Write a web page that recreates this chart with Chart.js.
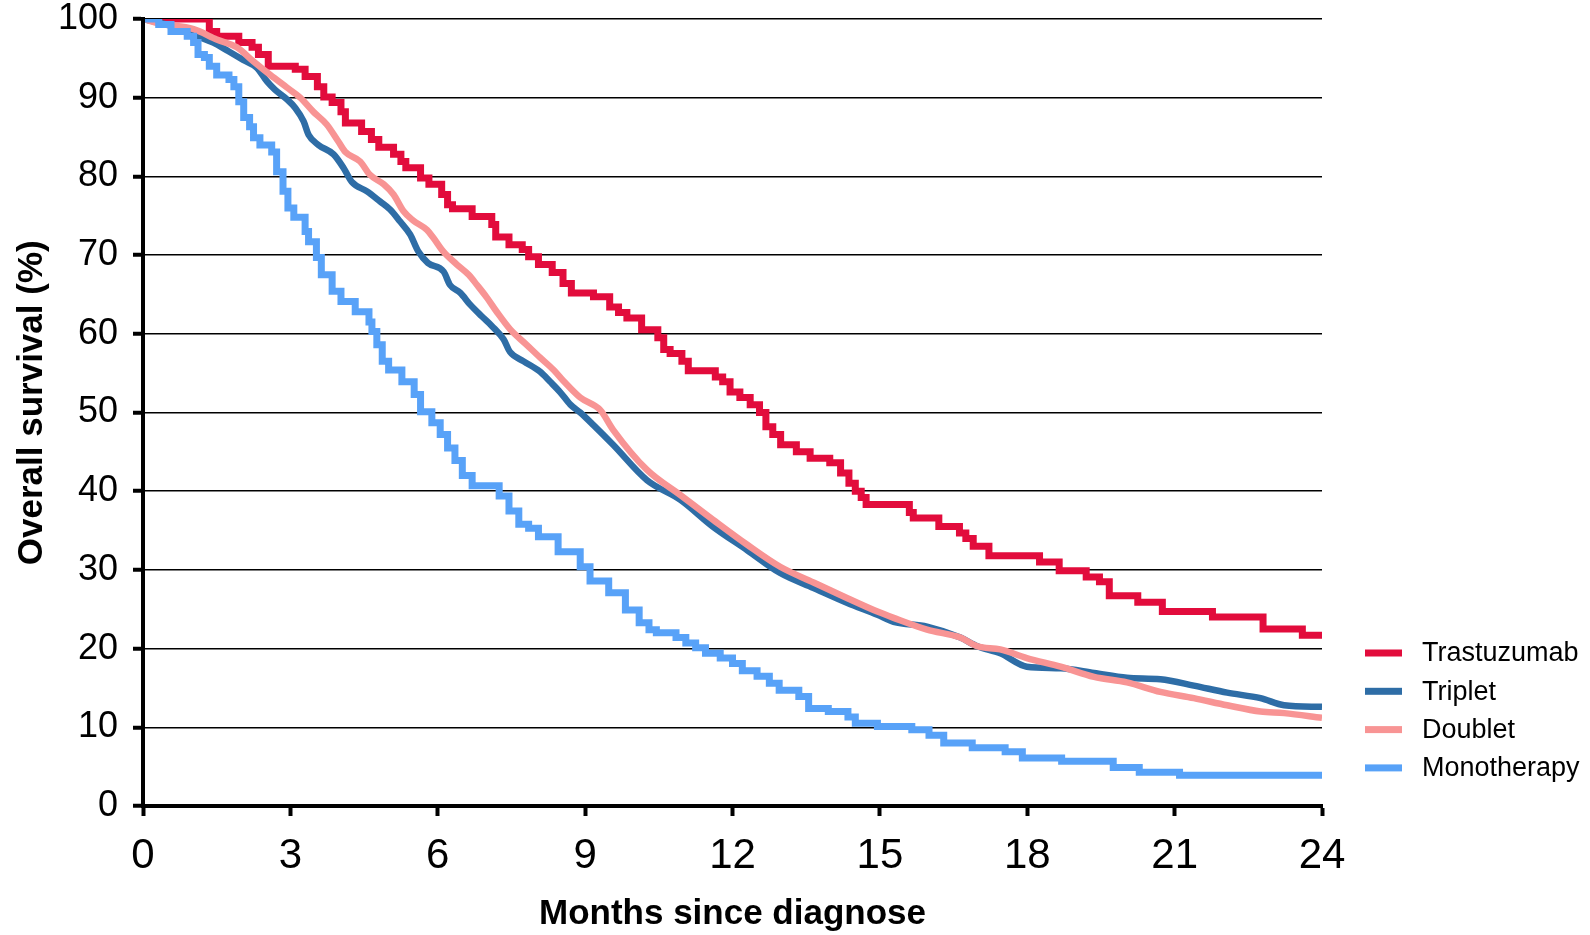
<!DOCTYPE html>
<html>
<head>
<meta charset="utf-8">
<title>Overall survival</title>
<script src="https://cdn.jsdelivr.net/npm/chart.js@4.4.1/dist/chart.umd.min.js"></script>
<style>
  html, body { margin:0; padding:0; background:#fff; }
  #wrap { width:1590px; height:935px; position:relative; }
</style>
</head>
<body>
<div id="wrap"><canvas id="osChart"></canvas></div>
<script>
'use strict';

// ── data: months since diagnose / overall survival (%) ──
const seriesNames  = ['Trastuzumab', 'Triplet', 'Doublet', 'Monotherapy'];
const seriesColors = ['#E20C3C', '#2E6DA6', '#F89494', '#58A2F8'];

const trastuzumabMonths = [0,1.35,1.5,1.95,2.22,2.35,2.55,3.1,3.3,3.55,3.68,3.85,4.03,4.12,4.45,4.65,4.8,5.1,5.25,5.35,5.65,5.82,6.08,6.2,6.3,6.7,7.1,7.18,7.45,7.72,7.85,8.05,8.33,8.55,8.72,9.17,9.5,9.68,9.85,10.15,10.48,10.6,10.73,10.97,11.1,11.65,11.8,11.95,12.15,12.36,12.55,12.68,12.82,12.98,13.3,13.58,13.98,14.2,14.37,14.5,14.62,14.72,15.6,15.68,16.2,16.62,16.75,16.9,17.22,18.25,18.65,19.2,19.47,19.67,20.25,20.75,21.77,22.8,23.6,24];
const trastuzumabSurv   = [100,98.4,97.8,97,96.4,95.5,94,93.6,92.7,91.4,90.1,89.4,88.2,86.8,85.7,84.7,83.7,82.8,81.9,81.1,79.8,79,77.7,76.4,75.9,74.9,73.9,72.3,71.3,70.7,69.8,68.8,67.8,66.4,65.2,64.7,63.4,62.7,62,60.5,59.5,58,57.5,56.5,55.3,54.5,53.9,52.6,51.9,51,50,48.2,47.2,45.9,45,44.2,43.6,42.3,41,40,39.2,38.3,37.3,36.6,35.5,34.7,34,33,31.8,31,29.9,29.1,28.5,26.7,25.9,24.7,24,22.5,21.7,21.7];

const tripletMonths = [0,0.48,1.03,1.43,1.74,2.04,2.32,2.52,2.69,2.93,3.1,3.27,3.37,3.57,3.88,4.08,4.25,4.56,4.83,5.03,5.23,5.44,5.6,5.8,6.12,6.25,6.46,6.66,6.9,7.1,7.34,7.47,7.75,8.08,8.29,8.49,8.7,8.9,9.17,9.57,10.26,10.94,11.6,12.3,12.97,13.65,14.34,14.95,15.28,15.96,16.64,16.98,17.45,17.99,18.68,19.36,20.03,20.71,21.39,22.07,22.75,23.23,24];
const tripletSurv   = [100,99.3,98,97,95.9,94.8,93.8,92.1,91,89.8,88.7,87,85.3,84,82.8,81.1,79.3,78.1,76.8,75.8,74.3,72.6,70.5,69,67.9,66.2,65.2,63.7,62.2,61,59.3,57.7,56.5,55.2,53.9,52.6,51,50,48.4,45.9,41.4,38.9,35.5,32.5,29.6,27.7,25.8,24.3,23.4,22.8,21.4,20.3,19.4,17.7,17.5,16.9,16.3,16.1,15.3,14.4,13.7,12.8,12.6];

const doubletMonths = [0,0.35,1.03,1.5,1.91,2.25,2.59,2.93,3.2,3.47,3.74,3.98,4.12,4.42,4.62,4.9,5.1,5.3,5.5,5.78,5.91,6.12,6.39,6.63,6.8,7,7.2,7.47,7.81,8.08,8.36,8.56,8.9,9.31,9.57,10.26,10.94,11.6,12.3,12.97,13.65,14.34,14.95,15.28,15.96,16.64,16.98,17.45,17.99,18.68,19.36,20.03,20.71,21.39,22.07,22.75,23.23,24];
const doubletSurv   = [100,99.4,98.7,97.4,96.4,94.6,92.9,91.3,90,88.2,86.6,84.4,83.1,81.9,80.2,79,77.7,75.6,74.4,73.2,72.2,70.4,68.8,67.5,66.2,64.6,62.8,60.6,58.6,57,55.4,54,51.9,50.3,47.8,42.7,39.5,36.4,33.2,30.4,28.4,26.4,24.7,23.9,22.4,21.4,20.3,19.9,18.8,17.7,16.4,15.7,14.5,13.7,12.8,12,11.8,11.2];

const monoMonths = [0,0.32,0.57,0.9,1.03,1.12,1.25,1.35,1.5,1.75,1.85,1.95,2.05,2.17,2.25,2.38,2.62,2.72,2.85,2.95,3.07,3.3,3.37,3.53,3.63,3.85,4.03,4.32,4.6,4.66,4.76,4.87,5,5.27,5.52,5.65,5.88,6.05,6.2,6.35,6.5,6.7,7.25,7.45,7.65,7.85,8.05,8.45,8.9,9.1,9.48,9.82,10.1,10.3,10.45,10.85,11.05,11.25,11.45,11.75,12,12.2,12.5,12.75,12.95,13.35,13.55,13.95,14.35,14.5,14.95,15.65,16,16.3,16.88,17.55,17.9,18.7,19.75,20.28,21.1,24];
const monoSurv   = [100,99.3,98.4,97.8,97,95.5,95.1,94,92.9,92.3,91.4,89.5,87.5,86.3,84.9,84,83.1,80.6,78.1,76,74.8,73,71.7,69.7,67.5,65.4,64.1,62.8,61.5,60.3,58.6,56.5,55.4,53.9,52.3,50.1,48.7,47.2,45.5,43.9,42,40.7,39.4,37.5,35.8,35.3,34.2,32.3,30.4,28.6,27.1,24.9,23.3,22.4,22,21.4,20.7,20.1,19.4,18.8,18.1,17.2,16.5,15.6,14.7,13.9,12.4,12,11.3,10.5,10.1,9.7,9,8,7.4,6.9,6.1,5.7,4.9,4.3,3.9,3.9];

const xTickValues = [0, 3, 6, 9, 12, 15, 18, 21, 24];
const yTickValues = [0, 10, 20, 30, 40, 50, 60, 70, 80, 90, 100];

const FONT = "'Liberation Sans', Arial, sans-serif";

const toPoints = (months, surv) => months.map((m, i) => ({ x: m, y: surv[i] }));

// ── custom legend, bottom right next to the plot ──
const sideLegend = {
  id: 'sideLegend',
  afterDraw(chart) {
    const { ctx, chartArea } = chart;
    ctx.save();
    ctx.font = `27px ${FONT}`;
    ctx.textBaseline = 'middle';
    chart.data.datasets.forEach((ds, i) => {
      const y = chartArea.bottom - 153 + i * 38.3;
      ctx.fillStyle = ds.borderColor;
      ctx.fillRect(chartArea.right + 43, y - 3.5, 37, 7);
      ctx.fillStyle = '#000';
      ctx.fillText(ds.label, chartArea.right + 100, y + 1);
    });
    ctx.restore();
  }
};

const lineSet = (i, pts, stepped, width, order) => ({
  label: seriesNames[i], data: pts, borderColor: seriesColors[i], backgroundColor: seriesColors[i],
  borderWidth: width, stepped, pointRadius: 0, fill: false, order,
  cubicInterpolationMode: stepped ? 'default' : 'monotone'
});

new Chart(document.getElementById('osChart'), {
  type: 'line',
  data: {
    datasets: [
      lineSet(0, toPoints(trastuzumabMonths, trastuzumabSurv), 'before', 7, 4),
      lineSet(1, toPoints(tripletMonths, tripletSurv), false, 6.5, 3),
      lineSet(2, toPoints(doubletMonths, doubletSurv), false, 6.5, 2),
      lineSet(3, toPoints(monoMonths, monoSurv), 'before', 7, 1),
    ]
  },
  options: {
    responsive: true, maintainAspectRatio: false, animation: false,
    layout: { padding: { top: 19, right: 268, bottom: 0, left: 0 } },
    plugins: { legend: { display: false }, tooltip: { enabled: false } },
    scales: {
      x: {
        type: 'linear', min: 0, max: 24,
        afterBuildTicks: s => { s.ticks = xTickValues.map(v => ({ value: v })); },
        afterFit: s => { s.height = 129; s.paddingLeft = 0; s.paddingRight = 0; },
        ticks: { color: '#000', font: { family: FONT, size: 42 }, padding: 15, maxRotation: 0 },
        grid: { drawOnChartArea: false, drawTicks: true, tickLength: 10, tickWidth: 4, tickColor: '#000' },
        border: { color: '#000', width: 4, z: 1 },
        title: { display: true, text: 'Months since diagnose', color: '#000',
                 font: { family: FONT, size: 35, weight: 'bold' }, padding: { top: 0, bottom: 0 } }
      },
      y: {
        type: 'linear', min: 0, max: 100,
        afterBuildTicks: s => { s.ticks = yTickValues.map(v => ({ value: v })); },
        afterFit: s => { s.width = 143; s.paddingTop = 0; s.paddingBottom = 0; },
        ticks: { color: '#000', font: { family: FONT, size: 36 }, padding: 15 },
        grid: { color: '#000', lineWidth: 1.5, tickLength: 10, tickWidth: 4, tickColor: '#000' },
        border: { color: '#000', width: 4, z: 1 },
        title: { display: true, text: '  Overall survival (%)', color: '#000',
                 font: { family: FONT, size: 35, weight: 'bold' }, padding: { top: 11, bottom: 0 } }
      }
    }
  },
  plugins: [sideLegend]
});
</script>
</body>
</html>
